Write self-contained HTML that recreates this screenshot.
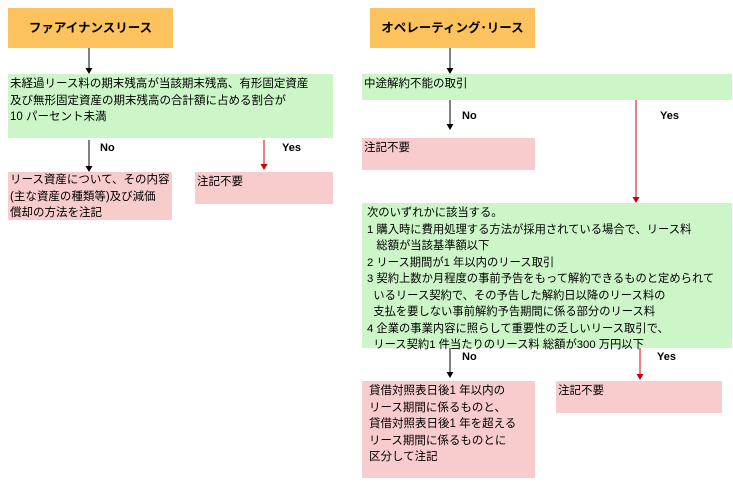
<!DOCTYPE html><html><head><meta charset="utf-8"><style>
body{margin:0;width:733px;height:489px;background:#fff;position:relative;font-family:"Liberation Sans","Noto Sans CJK JP",sans-serif;font-size:11.5px;color:#000;overflow:hidden}
.b{position:absolute;box-sizing:border-box;padding:2px 2px;line-height:16.5px}
.o{background:#fbc25d;font-weight:bold;font-size:12.5px;text-align:center;line-height:40px;padding:0}
.g{background:#ccf5c8}.p{background:#f8cccc}
.l{position:absolute;font-weight:bold;font-size:11px}
svg{position:absolute;left:0;top:0}
</style></head><body>
<div class="b o" style="left:8px;top:8px;width:165px;height:40px">ファアイナンスリース</div>
<div class="b o" style="left:370px;top:8px;width:165px;height:40px">オペレーティング･リース</div>
<div class="b g" style="left:8px;top:74px;width:325px;height:64px">未経過リース料の期末残高が当該期末残高、有形固定資産<br>及び無形固定資産の期末残高の合計額に占める割合が<br>10 パーセント未満</div>
<div class="b p" style="left:8px;top:172px;width:164px;height:48px;padding-top:0">リース資産について、その内容<br>(主な資産の種類等)及び減価<br>償却の方法を注記</div>
<div class="b p" style="left:195px;top:172px;width:138px;height:32px">注記不要</div>
<div class="b g" style="left:362px;top:74px;width:370px;height:26px">中途解約不能の取引</div>
<div class="b p" style="left:362px;top:138px;width:173px;height:32px">注記不要</div>
<div class="b g" style="left:362px;top:203px;width:370px;height:145px;padding-left:5px;font-size:11.3px">次のいずれかに該当する。<br>1 購入時に費用処理する方法が採用されている場合で、リース料<br>&nbsp;&nbsp;&nbsp;総額が当該基準額以下<br>2 リース期間が1 年以内のリース取引<br>3 契約上数か月程度の事前予告をもって解約できるものと定められて<br>&nbsp;&nbsp;いるリース契約で、その予告した解約日以降のリース料の<br>&nbsp;&nbsp;支払を要しない事前解約予告期間に係る部分のリース料<br>4 企業の事業内容に照らして重要性の乏しいリース取引で、<br>&nbsp;&nbsp;リース契約1 件当たりのリース料 総額が300 万円以下</div>
<div class="b p" style="left:362px;top:381px;width:173px;height:97px;padding-left:7px">貸借対照表日後1 年以内の<br>リース期間に係るものと、<br>貸借対照表日後1 年を超える<br>リース期間に係るものとに<br>区分して注記</div>
<div class="b p" style="left:556px;top:381px;width:166px;height:32px">注記不要</div>
<div class="l" style="left:100px;top:142px">No</div>
<div class="l" style="left:282px;top:142px">Yes</div>
<div class="l" style="left:462px;top:110px">No</div>
<div class="l" style="left:660px;top:110px">Yes</div>
<div class="l" style="left:462px;top:351px">No</div>
<div class="l" style="left:657px;top:351px">Yes</div>
<svg width="733" height="489">
<g stroke-width="1">
<line x1="89" y1="48" x2="89" y2="70" stroke="#000"/><path d="M85.5 68 L92.5 68 L89 74Z"/>
<line x1="89" y1="140" x2="89" y2="168" stroke="#000"/><path d="M85.5 166 L92.5 166 L89 172Z"/>
<line x1="264" y1="140" x2="264" y2="166" stroke="#c00"/><path d="M260.5 164 L267.5 164 L264 170Z" fill="#c00"/>
<line x1="450" y1="48" x2="450" y2="70" stroke="#000"/><path d="M446.5 68 L453.5 68 L450 74Z"/>
<line x1="450" y1="100" x2="450" y2="126" stroke="#000"/><path d="M446.5 124 L453.5 124 L450 130Z"/>
<line x1="636" y1="100" x2="636" y2="199" stroke="#c00"/><path d="M632.5 197 L639.5 197 L636 203Z" fill="#c00"/>
<line x1="450" y1="348" x2="450" y2="374" stroke="#000"/><path d="M446.5 372 L453.5 372 L450 378Z"/>
<line x1="640" y1="348" x2="640" y2="376" stroke="#c00"/><path d="M636.5 374 L643.5 374 L640 380Z" fill="#c00"/>
</g></svg>
</body></html>
